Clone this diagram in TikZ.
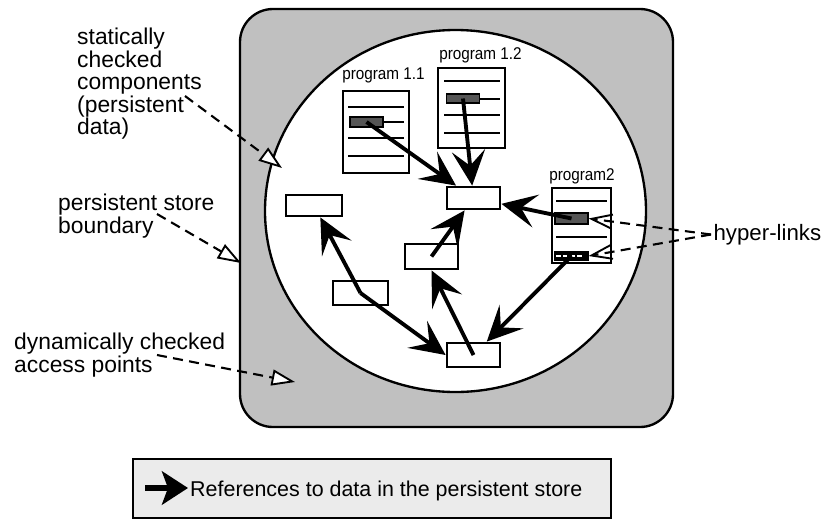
\documentclass[tikz,border=0pt]{standalone}
\usepackage{fontspec}
\setmainfont{Liberation Sans}
\newfontfamily\progfont{Liberation Sans}[FakeStretch=0.9]
\usetikzlibrary{arrows.meta}
\definecolor{storegray}{HTML}{C0C0C0}
\definecolor{legendgray}{HTML}{EBEBEB}
\definecolor{bargray}{HTML}{555555}
\begin{document}
\begin{tikzpicture}[x=0.03cm, y=-0.03cm,
  storebox/.style={draw=black, fill=storegray, line width=2pt, rounded corners=0.99cm},
  blob/.style={draw=black, fill=white, line width=2pt},
  docbox/.style={draw=black, fill=white, line width=2.3pt, inner sep=0pt},
  docline/.style={line width=2pt},
  codebar/.style={draw=black, fill=bargray, line width=1pt, inner sep=0pt, minimum width=0.99cm},
  linkbar/.style={draw=black, fill=black, line width=1pt, inner sep=0pt, minimum width=0.99cm},
  databox/.style={draw=black, fill=white, line width=2.4pt, inner sep=0pt},
  refarrow/.style={line width=3.3pt, -{Stealth[length=1.05cm, width=1.0cm, inset=0.45cm]}},
  notearrow/.style={line width=1.8pt, dash pattern=on 0.3cm off 0.19cm,
    -{Triangle[length=0.7cm, width=0.48cm, fill=white, line width=1.6pt]}},
  hlink/.style={line width=1.8pt, dash pattern=on 0.3cm off 0.19cm,
    -{Straight Barb[length=0.62cm, width=0.42cm, line width=1.6pt]}},
  bigtext/.style={font=\fontsize{19.5}{19.2}\selectfont, inner sep=0pt, align=left},
  progtext/.style={font=\progfont\fontsize{14.5}{16}\selectfont, inner sep=0pt},
  legendbox/.style={draw=black, fill=legendgray, line width=2pt, inner sep=0pt},
]
\useasboundingbox (0,0) rectangle (830,520);

% persistent store and the region of statically checked data
\draw[storebox] (240,9) rectangle (673,427);
\draw[blob] (455.5,211) ellipse [x radius=190.5, y radius=181];

% program documents
\node[docbox, minimum width=1.98cm, minimum height=2.46cm] (p11) at (376,132) {};
\node[docbox, minimum width=2.01cm, minimum height=2.4cm] (p12) at (471.5,108) {};
\node[docbox, minimum width=1.77cm, minimum height=2.25cm] (p2) at (581.5,225.5) {};
\node[progtext, anchor=base] (p11label) at (383.5,79) {program 1.1};
\node[progtext, anchor=base] (p12label) at (480.5,59) {program 1.2};
\node[progtext, anchor=base] (p2label) at (582,180) {program2};

% code lines
\foreach \y in {107,138,156} \draw[docline] (348,\y) -- (404,\y);
\draw[docline] (383,122) -- (404,122);
\foreach \y in {81,115,133} \draw[docline] (444,\y) -- (500,\y);
\draw[docline] (479,99) -- (500,99);
\foreach \y in {201,237} \draw[docline] (556,\y) -- (607,\y);

% references held in the programs
\node[codebar, minimum height=0.3cm] (bar11) at (366.5,122) {};
\node[codebar, minimum height=0.27cm] (bar12) at (463,98.5) {};
\node[codebar, minimum height=0.33cm] (bar2a) at (571.5,218.5) {};
\node[linkbar, minimum height=0.26cm] (bar2b) at (571.5,256) {};
\draw[white, line width=2.4pt, dash pattern=on 0.15cm off 0.06cm on 0.12cm off 0.15cm on 0.09cm off 0.06cm on 0.15cm]
  ([xshift=0.06cm]bar2b.west) -- ([xshift=-0.06cm]bar2b.east);

% data components
\node[databox, minimum width=1.68cm, minimum height=0.63cm] (A) at (314,205.5) {};
\node[databox, minimum width=1.59cm, minimum height=0.66cm] (B) at (473.5,198) {};
\node[databox, minimum width=1.59cm, minimum height=0.75cm] (C) at (431.5,256.5) {};
\node[databox, minimum width=1.65cm, minimum height=0.72cm] (D) at (360.5,293) {};
\node[databox, minimum width=1.59cm, minimum height=0.72cm] (E) at (473.5,355) {};

% references between data
\draw[refarrow] (bar11.center) -- (B);
\draw[refarrow] (bar12.center) -- (B);
\draw[refarrow] (bar2a.center) -- (B);
\draw[refarrow] (bar2b.center) -- (E);
\draw[refarrow] (C.center) -- (B);
\draw[refarrow] (E.center) -- (C.south);
\draw[refarrow] (D.center) -- (A);
\draw[refarrow] (D.center) -- (E.west);

% annotations
\node[bigtext, anchor=north west] (stat) at (77,28)
  {statically\\checked\\components\\(persistent\\data)};
\node[bigtext, anchor=north west] (bound) at (58,194)
  {persistent store\\boundary};
\node[bigtext, anchor=north west] (dyn) at (14,333)
  {dynamically checked\\access points};
\coordinate (statEnd) at (185,96);
\coordinate (statTip) at (282,168);
\coordinate (boundEnd) at (157,214);
\coordinate (boundTip) at (241,263);
\coordinate (dynEnd) at (157,355);
\coordinate (dynTip) at (295,382);
\draw[notearrow] (statEnd) -- (statTip);
\draw[notearrow] (boundEnd) -- (boundTip);
\draw[notearrow] (dynEnd) -- (dynTip);

\node[anchor=west, inner sep=2pt, font=\fontsize{19}{20}\selectfont] (hyper) at (711,234.5) {hyper-links};
\draw[hlink] (hyper.west) -- (bar2a.east);
\draw[hlink] (hyper.west) -- (bar2b.east);

% legend
\node[legendbox, minimum width=14.34cm, minimum height=1.77cm] (legend) at (372,488.5) {};
\coordinate (legA) at (145,488);
\coordinate (legB) at (188,488);
\draw[line width=4.8pt, -{Stealth[length=0.78cm, width=1.0cm, inset=0.18cm]}] (legA) -- (legB);
\node[anchor=west, inner sep=0pt, font=\fontsize{18.3}{20}\selectfont] (legtext) at (190,491)
  {References to data in the persistent store};
\end{tikzpicture}
\end{document}
